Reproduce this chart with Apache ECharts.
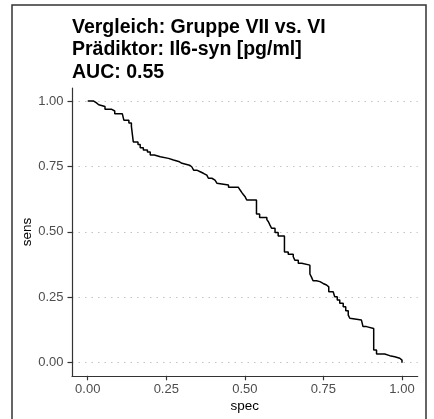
<!DOCTYPE html>
<html>
<head>
<meta charset="utf-8">
<script src="https://cdn.jsdelivr.net/npm/echarts@6/dist/echarts.min.js"></script>
<style>html,body{margin:0;padding:0;background:#fff;}#c{width:434px;height:419px;}</style>
</head>
<body>
<div id="c"></div>
<script>
const titleLines = ['Vergleich: Gruppe VII vs. VI', 'Prädiktor: Il6-syn [pg/ml]', 'AUC: 0.55'];
const tickValues = [0, 0.25, 0.5, 0.75, 1.0];
const tickLabels = ['0.00', '0.25', '0.50', '0.75', '1.00'];
const spec = [0, 0.019, 0.028, 0.035, 0.055, 0.075, 0.086, 0.110, 0.115, 0.131, 0.139, 0.145, 0.160, 0.167, 0.177, 0.190, 0.199, 0.212, 0.231, 0.257, 0.273, 0.292, 0.300, 0.324, 0.331, 0.337, 0.347, 0.358, 0.368, 0.379, 0.384, 0.395, 0.405, 0.411, 0.416, 0.448, 0.479, 0.485, 0.490, 0.495, 0.501, 0.506, 0.537, 0.547, 0.570, 0.575, 0.580, 0.585, 0.596, 0.606, 0.626, 0.638, 0.654, 0.659, 0.670, 0.681, 0.707, 0.712, 0.717, 0.728, 0.739, 0.749, 0.760, 0.767, 0.781, 0.786, 0.794, 0.802, 0.813, 0.821, 0.829, 0.834, 0.839, 0.871, 0.876, 0.887, 0.910, 0.919, 0.945, 0.961, 0.977, 0.993, 1.0];
const sens = [1.0, 0.993, 0.986, 0.979, 0.969, 0.962, 0.952, 0.945, 0.927, 0.916, 0.903, 0.844, 0.834, 0.822, 0.813, 0.805, 0.794, 0.787, 0.781, 0.775, 0.768, 0.762, 0.755, 0.749, 0.743, 0.736, 0.730, 0.724, 0.717, 0.711, 0.705, 0.698, 0.692, 0.686, 0.679, 0.671, 0.666, 0.660, 0.651, 0.643, 0.634, 0.622, 0.568, 0.555, 0.547, 0.539, 0.526, 0.514, 0.498, 0.484, 0.423, 0.415, 0.405, 0.392, 0.380, 0.373, 0.339, 0.327, 0.313, 0.310, 0.303, 0.297, 0.290, 0.271, 0.267, 0.252, 0.240, 0.227, 0.214, 0.199, 0.182, 0.170, 0.163, 0.157, 0.138, 0.131, 0.049, 0.033, 0.027, 0.023, 0.017, 0.010, 0.0];

const chart = echarts.init(document.getElementById('c'), null, {renderer: 'canvas'});
const fmt = v => { const i = tickValues.findIndex(t => Math.abs(t - v) < 1e-9); return i >= 0 ? tickLabels[i] : ''; };
const axisCommon = {
  type: 'value', min: -0.05, max: 1.05,
  axisLine: {show: true, onZero: false, lineStyle: {color: '#333', width: 1.2}},
  axisTick: {show: true, length: 4.5, customValues: tickValues, lineStyle: {color: '#333', width: 1.2}},
  axisLabel: {customValues: tickValues, formatter: fmt, color: '#4d4d4d', fontSize: 13, fontFamily: 'Liberation Sans'},
  nameLocation: 'middle',
  nameMoveOverlap: false,
  nameTextStyle: {color: '#000', fontSize: 13.5, fontFamily: 'Liberation Sans'}
};
chart.setOption({
  animation: false,
  backgroundColor: '#fff',
  title: {
    text: titleLines.join('\n'), left: 67, top: 11,
    textStyle: {fontSize: 19.5, fontWeight: 'bold', lineHeight: 22.5, color: '#000', fontFamily: 'Liberation Sans'}
  },
  graphic: [{type: 'rect', shape: {x: 12, y: 5, width: 414, height: 430}, style: {fill: 'none', stroke: '#333', lineWidth: 1.5}, silent: true}],
  grid: {left: 72, right: 16.3, top: 88, bottom: 43.2},
  xAxis: Object.assign({}, axisCommon, {name: 'spec', nameGap: 23.5, splitLine: {show: false},
    axisLabel: Object.assign({}, axisCommon.axisLabel, {margin: 7})}),
  yAxis: Object.assign({}, axisCommon, {name: 'sens', nameGap: 38,
    axisLabel: Object.assign({}, axisCommon.axisLabel, {margin: 8.5}),
    splitLine: {show: true, lineStyle: {color: '#c4c4c4', type: [1.5, 5], width: 1.2}}}),
  series: [{
    type: 'line', data: spec.map((s, i) => [s, sens[i]]), step: 'end',
    showSymbol: false, symbol: 'none', lineStyle: {color: '#000', width: 1.5}
  }]
});
</script>
</body>
</html>
